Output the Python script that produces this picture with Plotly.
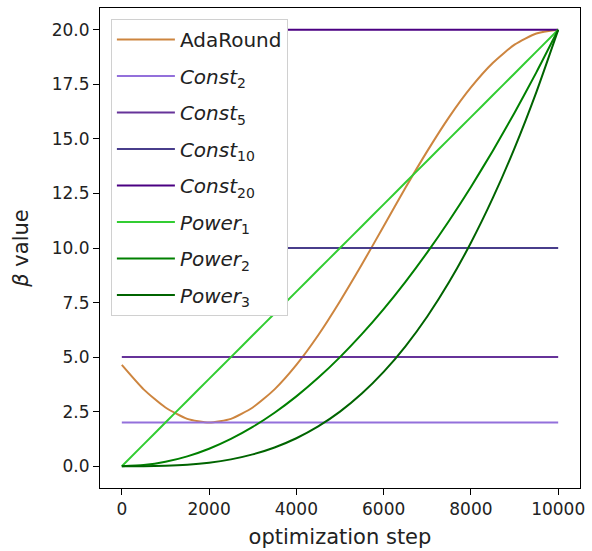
import plotly.graph_objects as go

steps = [0, 500, 1000, 1500, 2000, 2500, 3000, 3500, 4000, 4500, 5000,
         5500, 6000, 6500, 7000, 7500, 8000, 8500, 9000, 9500, 10000]

adaround = [4.64, 3.52, 2.69, 2.17, 2.0, 2.17, 2.69, 3.52, 4.64, 6.0, 7.56,
            9.24, 11.0, 12.76, 14.44, 16.0, 17.36, 18.48, 19.32, 19.83, 20.0]
const2 = [2.0] * 21
const5 = [5.0] * 21
const10 = [10.0] * 21
const20 = [20.0] * 21
power1 = [0, 1, 2, 3, 4, 5, 6, 7, 8, 9, 10, 11, 12, 13, 14, 15, 16, 17, 18, 19, 20]
power2 = [0, 0.05, 0.2, 0.45, 0.8, 1.25, 1.8, 2.45, 3.2, 4.05, 5.0, 6.05, 7.2,
          8.45, 9.8, 11.25, 12.8, 14.45, 16.2, 18.05, 20.0]
power3 = [0, 0.0025, 0.02, 0.0675, 0.16, 0.3125, 0.54, 0.8575, 1.28, 1.8225,
          2.5, 3.3275, 4.32, 5.4925, 6.86, 8.4375, 10.24, 12.2825, 14.58, 17.1475, 20.0]

x_ticks = [0, 2000, 4000, 6000, 8000, 10000]
x_ticktext = ["0", "2000", "4000", "6000", "8000", "10000"]
y_ticks = [0, 2.5, 5, 7.5, 10, 12.5, 15, 17.5, 20]
y_ticktext = ["0.0", "2.5", "5.0", "7.5", "10.0", "12.5", "15.0", "17.5", "20.0"]

series = [
    ("AdaRound", adaround, "#CD853F"),
    ("<i>Const</i><sub>2</sub>", const2, "#9370DB"),
    ("<i>Const</i><sub>5</sub>", const5, "#663399"),
    ("<i>Const</i><sub>10</sub>", const10, "#483D8B"),
    ("<i>Const</i><sub>20</sub>", const20, "#4B0082"),
    ("<i>Power</i><sub>1</sub>", power1, "#32CD32"),
    ("<i>Power</i><sub>2</sub>", power2, "#008000"),
    ("<i>Power</i><sub>3</sub>", power3, "#006400"),
]

fig = go.Figure()
for i, (name, vals, col) in enumerate(series):
    fig.add_trace(go.Scatter(x=steps, y=vals, mode="lines", name=name,
                             legendgroup="g%d" % i,
                             line=dict(color=col, width=2, shape="spline", smoothing=0.6)))

axis_common = dict(showline=True, linecolor="black", linewidth=1, mirror=True,
                   ticks="outside", ticklen=6, tickcolor="black", showgrid=False,
                   zeroline=False, tickfont=dict(size=17, color="#222"))

fig.update_layout(
    width=592, height=551,
    margin=dict(l=100, r=7, t=7, b=61),
    paper_bgcolor="white", plot_bgcolor="white",
    font=dict(family="DejaVu Sans", color="#222"),
    showlegend=True,
    legend=dict(x=0.0227, y=0.977, xanchor="left", yanchor="top",
                bgcolor="white", bordercolor="#d0d0d0", borderwidth=1,
                font=dict(size=20, color="#222"), traceorder="grouped", tracegroupgap=7.5,
                itemwidth=58),
)
fig.update_xaxes(range=[-500, 10500], tickvals=x_ticks, ticktext=x_ticktext,
                 title=dict(text="optimization step", font=dict(size=21), standoff=10),
                 **axis_common)
fig.update_yaxes(range=[-1, 21], tickvals=y_ticks, ticktext=y_ticktext,
                 title=dict(text="<i>β</i> value", font=dict(size=21), standoff=17),
                 **axis_common)

fig.write_html("out.html")
